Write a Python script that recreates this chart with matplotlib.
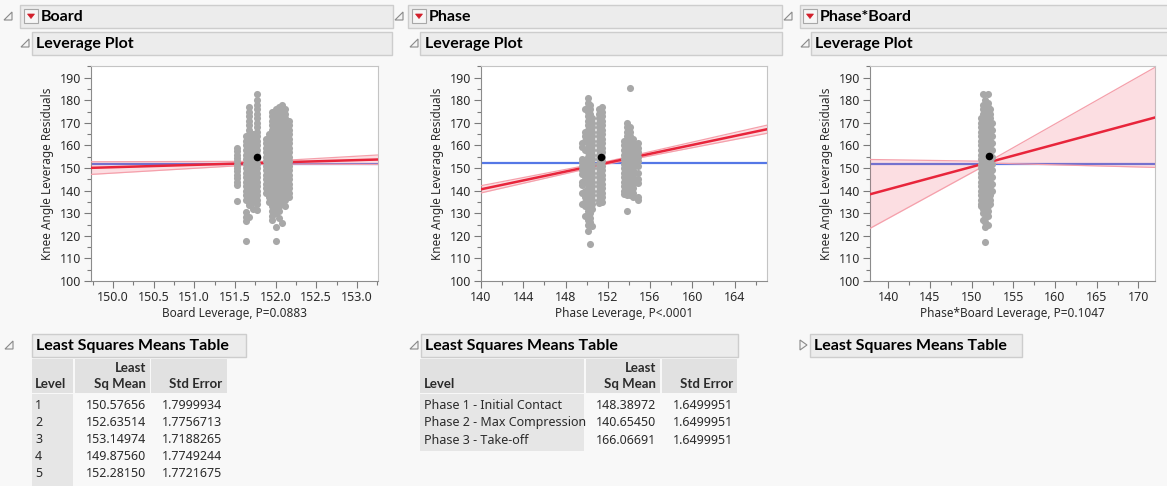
import matplotlib
matplotlib.use('Agg')
import matplotlib.pyplot as plt
from matplotlib.patches import Rectangle, Polygon
from matplotlib.ticker import MultipleLocator, FormatStrFormatter

plt.rcParams['font.family'] = ['Noto Sans', 'DejaVu Sans']
BOLD = ['Lato', 'DejaVu Sans']

W, H = 1167, 486

# ---------------- data ----------------
# Board leverage plot: point columns (leverage x, residual ys)
board_col_x = [151.53, 151.635, 151.67, 151.72, 151.77, 151.88, 151.92,
               151.96, 152.0, 152.04, 152.08, 152.12, 152.16]
board_col_y = [
    [159, 157.5, 156, 154.5, 153, 151.5, 150, 148.5, 147, 145.5, 144, 142.5, 135.5],
    [164, 162, 160, 158, 156, 154, 152, 150, 148, 146, 144, 142, 140, 138, 136, 130.5, 128.5, 126.5, 117.5],
    [177, 175, 173, 171, 169, 167, 165, 163, 161, 159, 157, 155, 153, 151, 149, 147, 145, 143, 141, 139,
     137, 135, 133.5, 128.5],
    [165, 163, 161, 159, 157, 155, 153, 151, 149, 147, 145, 143, 141, 139, 137, 135, 132],
    [183, 180, 178, 176, 174, 172, 170, 168, 166, 164, 162, 160, 158, 156, 154, 152, 150, 148, 146, 144,
     142, 140, 138, 136, 134, 131.5],
    [163, 161, 159, 157, 155, 153, 151, 149, 147, 145, 143, 141, 139],
    [165, 163, 161, 159, 157, 155, 153, 151, 149, 147, 145, 143, 141, 139, 137, 135],
    [175, 173, 171, 169, 167, 165, 163, 161, 159, 157, 155, 153, 151, 149, 147, 145, 143, 141, 139, 137,
     135, 133, 131, 129, 127],
    [176, 174, 172, 170, 168, 166, 164, 162, 160, 158, 156, 154, 152, 150, 148, 146, 144, 142, 140, 138,
     136, 134, 132, 130, 124, 117.5],
    [177, 175, 173, 171, 169, 167, 165, 163, 161, 159, 157, 155, 153, 151, 149, 147, 145, 143, 141, 139,
     137, 135, 133, 131, 128],
    [178, 176, 174, 172, 170, 168, 166, 164, 162, 160, 158, 156, 154, 152, 150, 148, 146, 144, 142, 140,
     138, 136, 134, 125.5],
    [176, 174, 172, 170, 168, 166, 164, 162, 160, 158, 156, 154, 152, 150, 148, 146, 144, 142, 140, 138,
     136, 133],
    [171, 169, 167, 165, 163, 161, 159, 157, 155, 153, 151, 149, 147, 145, 143, 141, 139, 137],
]
board_fit_x = [149.73, 153.26]
board_fit_y = [150.1, 153.8]
board_band_x = [149.73, 151.9, 153.26]
board_band_lo = [147.2, 151.8, 151.6]
board_band_hi = [152.8, 153.0, 155.8]
board_mean = 152.0
board_dot = (151.77, 155.0)

# Phase leverage plot
phase_col_x = [149.6, 149.85, 150.1, 150.32, 150.55, 151.2, 151.45,
               153.55, 153.85, 154.1, 154.35, 154.85]
phase_col_y = [
    [161, 159.5, 154, 152.5, 151, 149, 147.5, 144, 142.5, 139, 134],
    [176, 166, 164, 162, 158, 152, 150, 148, 145, 140, 137, 135, 133, 129],
    [181, 179, 177, 175, 173, 171, 169, 167, 165, 163, 161, 159, 157, 155, 153, 151, 149, 147, 145, 143,
     141, 139, 137, 135, 133, 131, 129, 127, 125, 122],
    [178, 176, 174, 172, 170, 168, 166, 164, 162, 160, 158, 156, 154, 152, 150, 148, 146, 144, 142, 140,
     138, 136, 134, 132, 130, 128, 126, 116.5],
    [172, 170, 168, 166, 164, 162, 160, 158, 156, 154, 152, 150, 148, 146, 144, 142, 140, 138, 136, 134,
     132, 124.5],
    [176, 174, 172, 170, 168, 166, 164, 162, 160, 158, 156, 154, 152, 150, 148, 146, 144, 142, 140, 138,
     136, 134.5],
    [177, 175, 173, 171, 169, 167, 165, 163, 161, 159, 157, 155, 153, 151, 149, 147, 145, 143, 141, 139,
     137, 135],
    [162, 160, 158, 156, 154, 152, 150, 148, 146, 144, 142, 140, 138.5],
    [170, 168, 166, 164, 162, 160, 158, 156, 154, 152, 150, 148, 146, 144, 142, 140, 138, 130.8],
    [185.3, 168, 166, 164, 162, 160, 158, 156, 154, 152, 150, 148, 146, 144, 142, 140, 138],
    [163, 161, 159, 157, 155, 153, 151, 149, 147, 145, 143, 141, 139, 137],
    [161, 159, 157, 155, 153, 151, 148, 145, 143.5, 137, 136],
]
phase_fit_x = [140.0, 167.07]
phase_fit_y = [140.6, 167.2]
phase_band_x = [140.0, 152.0, 167.07]
phase_band_lo = [139.0, 151.8, 165.4]
phase_band_hi = [142.2, 153.0, 169.0]
phase_mean = 152.1
phase_dot = (151.37, 154.7)

# Phase*Board leverage plot
pb_col_x = [151.15, 151.4, 151.65, 151.9, 152.15, 152.4]
pb_col_y = [
    [172, 170, 168, 166, 164, 162, 160, 158, 156, 154, 152, 150, 148, 146, 144, 142, 140, 138, 136, 134, 133],
    [182.7, 178, 176, 174, 172, 170, 168, 166, 164, 162, 160, 158, 156, 154, 152, 150, 148, 146, 144, 142,
     140, 138, 136, 134, 132, 130, 127],
    [180, 178, 176, 174, 172, 170, 168, 166, 164, 162, 160, 158, 156, 154, 152, 150, 148, 146, 144, 142,
     140, 138, 136, 134, 132, 130, 128, 126, 124, 117.4],
    [182.7, 179, 177, 175, 173, 171, 169, 167, 165, 163, 161, 159, 157, 155, 153, 151, 149, 147, 145, 143,
     141, 139, 137, 135, 133, 131, 129, 125],
    [176, 174, 172, 170, 168, 166, 164, 162, 160, 158, 156, 154, 152, 150, 148, 146, 144, 142, 140, 138,
     136, 134],
    [170, 167, 164, 161, 158, 155, 152, 149, 146, 143, 140],
]
pb_fit_x = [137.8, 172.0]
pb_fit_y = [138.4, 172.4]
pb_band_x = [137.8, 152.1, 172.0]
pb_band_lo = [123.3, 152.2, 150.3]
pb_band_hi = [153.8, 153.0, 194.6]
pb_mean = 152.0
pb_dot = (152.05, 155.4)

# Least squares means tables
board_levels = ['1', '2', '3', '4', '5']
board_lsm = ['150.57656', '152.63514', '153.14974', '149.87560', '152.28150']
board_se = ['1.7999934', '1.7756713', '1.7188265', '1.7749244', '1.7721675']

phase_levels = ['Phase 1 - Initial Contact', 'Phase 2 - Max Compression', 'Phase 3 - Take-off']
phase_lsm = ['148.38972', '140.65450', '166.06691']
phase_se = ['1.6499951', '1.6499951', '1.6499951']

TXT = '#2b2b2b'


def px_axes(fig, l, t, r, b):
    return fig.add_axes([l / W, 1 - b / H, (r - l) / W, (b - t) / H])


def leverage_panel(ax, cols_x, cols_y, fit_x, fit_y, band_x, band_lo, band_hi,
                   mean, dot, xlim, xmajor, xminor, fmt, xlabel):
    ax.set_facecolor('white')
    ax.axhline(mean, color='#5577e6', lw=1.6, zorder=2)
    ax.fill_between(band_x, band_lo, band_hi, color='#f25a72', alpha=0.2, lw=0, zorder=3)
    ax.plot(band_x, band_lo, color='#f5a0ab', lw=0.9, zorder=3)
    ax.plot(band_x, band_hi, color='#f5a0ab', lw=0.9, zorder=3)
    ax.plot(fit_x, fit_y, color='#e8253b', lw=1.8, zorder=4)
    for x, ys in zip(cols_x, cols_y):
        ax.scatter([x] * len(ys), ys, s=26, color='#a8a8a8', lw=0, zorder=5)
    ax.scatter([dot[0]], [dot[1]], s=30, color='black', lw=0, zorder=6)

    ax.set_xlim(*xlim)
    ax.set_ylim(100, 195.2)
    ax.xaxis.set_major_locator(MultipleLocator(xmajor))
    ax.xaxis.set_minor_locator(MultipleLocator(xminor))
    ax.xaxis.set_major_formatter(FormatStrFormatter(fmt))
    ax.yaxis.set_major_locator(MultipleLocator(10))
    ax.yaxis.set_minor_locator(MultipleLocator(5))
    ax.tick_params(which='major', direction='out', length=5, width=0.8,
                   color='#7a7a7a', labelsize=9, labelcolor=TXT, pad=2)
    ax.tick_params(which='minor', direction='out', length=3, width=0.8, color='#7a7a7a')
    for side in ['left', 'bottom']:
        ax.spines[side].set_color('#8c8c8c')
    for side in ['top', 'right']:
        ax.spines[side].set_color('#c4c4c4')
    ax.set_ylabel('Knee Angle Leverage Residuals', fontsize=8.5, color=TXT, labelpad=4)
    ax.set_xlabel(xlabel, fontsize=8.5, color=TXT, labelpad=2)


def disclose(bg, x, y):
    bg.add_patch(Polygon([(x - 4, y + 4), (x + 4, y - 4), (x + 4, y + 4)], closed=True,
                         facecolor='#f4f4f4', edgecolor='#8a8a8a', lw=0.8))


def box(bg, x0, y0, x1, y1, text, tx, size=11.5):
    bg.add_patch(Rectangle((x0, y0), x1 - x0, y1 - y0, facecolor='#ececec',
                           edgecolor='#cdcdcd', lw=1))
    bg.text(tx, (y0 + y1) / 2 + 0.5, text, fontsize=size, fontweight='bold', family=BOLD,
            ha='left', va='center', color='black')


def red_icon(bg, x, y):
    bg.add_patch(Rectangle((x, y), 14, 14, facecolor='#f6f6f6', edgecolor='#a8a8a8', lw=0.8))
    bg.add_patch(Polygon([(x + 3.5, y + 5), (x + 10.5, y + 5), (x + 7, y + 9.5)],
                         closed=True, facecolor='#d21f2b', edgecolor='#d21f2b', lw=0.5))


def head_text(bg, x, y, s, ha='left'):
    bg.text(x, y, s, fontsize=9.5, fontweight='bold', family=BOLD, va='center', ha=ha, color=TXT)


def main():
    fig = plt.figure(figsize=(W / 100, H / 100), dpi=100, facecolor='#f8f8f8')
    bg = fig.add_axes([0, 0, 1, 1])
    bg.set_xlim(0, W)
    bg.set_ylim(H, 0)
    bg.axis('off')

    # outline headers
    for dx, bx0, bx1, ix, title, ttx, lx0, lx1, ldx, ltx in [
        (8, 20, 393, 24, 'Board', 41, 32, 392, 25, 36),
        (399, 408, 782, 412, 'Phase', 429, 420, 782, 414, 425),
        (788, 800, 1172, 803, 'Phase*Board', 820, 811, 1172, 805, 815),
    ]:
        disclose(bg, dx, 16)
        box(bg, bx0, 5, bx1, 28, title, ttx)
        red_icon(bg, ix, 9)
        disclose(bg, ldx, 43)
        box(bg, lx0, 32, lx1, 55, 'Leverage Plot', ltx)

    ax1 = px_axes(fig, 91, 66, 378, 281)
    leverage_panel(ax1, board_col_x, board_col_y, board_fit_x, board_fit_y,
                   board_band_x, board_band_lo, board_band_hi, board_mean, board_dot,
                   (149.73, 153.26), 0.5, 0.25, '%.1f', 'Board Leverage, P=0.0883')
    ax2 = px_axes(fig, 481, 66, 767, 281)
    leverage_panel(ax2, phase_col_x, phase_col_y, phase_fit_x, phase_fit_y,
                   phase_band_x, phase_band_lo, phase_band_hi, phase_mean, phase_dot,
                   (140.0, 167.07), 4, 2, '%d', 'Phase Leverage, P<.0001')
    ax3 = px_axes(fig, 870, 66, 1155, 281)
    leverage_panel(ax3, pb_col_x, pb_col_y, pb_fit_x, pb_fit_y,
                   pb_band_x, pb_band_lo, pb_band_hi, pb_mean, pb_dot,
                   (137.8, 172.0), 5, 2.5, '%d', 'Phase*Board Leverage, P=0.1047')

    # least squares means tables
    hdr = '#e1e1e1'
    lvl = '#e6e6e6'
    # Board table
    disclose(bg, 9, 345)
    box(bg, 32, 334, 246, 357, 'Least Squares Means Table', 36)
    bg.add_patch(Rectangle((32, 359), 41, 34, facecolor=hdr, lw=0))
    bg.add_patch(Rectangle((75, 359), 75, 34, facecolor=hdr, lw=0))
    bg.add_patch(Rectangle((151, 359), 76, 34, facecolor=hdr, lw=0))
    bg.add_patch(Rectangle((32, 394), 41, 92, facecolor=lvl, lw=0))
    head_text(bg, 35, 384, 'Level')
    head_text(bg, 146, 368, 'Least', 'right')
    head_text(bg, 146, 384, 'Sq Mean', 'right')
    head_text(bg, 222, 384, 'Std Error', 'right')
    for i, (lv, m, se) in enumerate(zip(board_levels, board_lsm, board_se)):
        y = 405 + 17 * i
        bg.text(35, y, lv, fontsize=9, va='center', color=TXT)
        bg.text(146, y, m, fontsize=9, va='center', ha='right', color=TXT)
        bg.text(222, y, se, fontsize=9, va='center', ha='right', color=TXT)

    # Phase table
    disclose(bg, 414, 345)
    box(bg, 421, 334, 738, 357, 'Least Squares Means Table', 425)
    bg.add_patch(Rectangle((420, 359), 164, 34, facecolor=hdr, lw=0))
    bg.add_patch(Rectangle((586, 359), 74, 34, facecolor=hdr, lw=0))
    bg.add_patch(Rectangle((662, 359), 75, 34, facecolor=hdr, lw=0))
    bg.add_patch(Rectangle((420, 394), 164, 57, facecolor=lvl, lw=0))
    head_text(bg, 424, 384, 'Level')
    head_text(bg, 656, 368, 'Least', 'right')
    head_text(bg, 656, 384, 'Sq Mean', 'right')
    head_text(bg, 733, 384, 'Std Error', 'right')
    for i, (lv, m, se) in enumerate(zip(phase_levels, phase_lsm, phase_se)):
        y = 405 + 17.5 * i
        bg.text(424, y, lv, fontsize=9, va='center', color=TXT)
        bg.text(656, y, m, fontsize=9, va='center', ha='right', color=TXT)
        bg.text(733, y, se, fontsize=9, va='center', ha='right', color=TXT)

    # Phase*Board table (collapsed)
    bg.add_patch(Polygon([(800, 340), (800, 350), (807, 345)], closed=True,
                         facecolor='#f4f4f4', edgecolor='#8a8a8a', lw=0.8))
    box(bg, 810, 334, 1022, 357, 'Least Squares Means Table', 814)

    fig.savefig('out.png', dpi=100, facecolor=fig.get_facecolor())


if __name__ == '__main__':
    main()
